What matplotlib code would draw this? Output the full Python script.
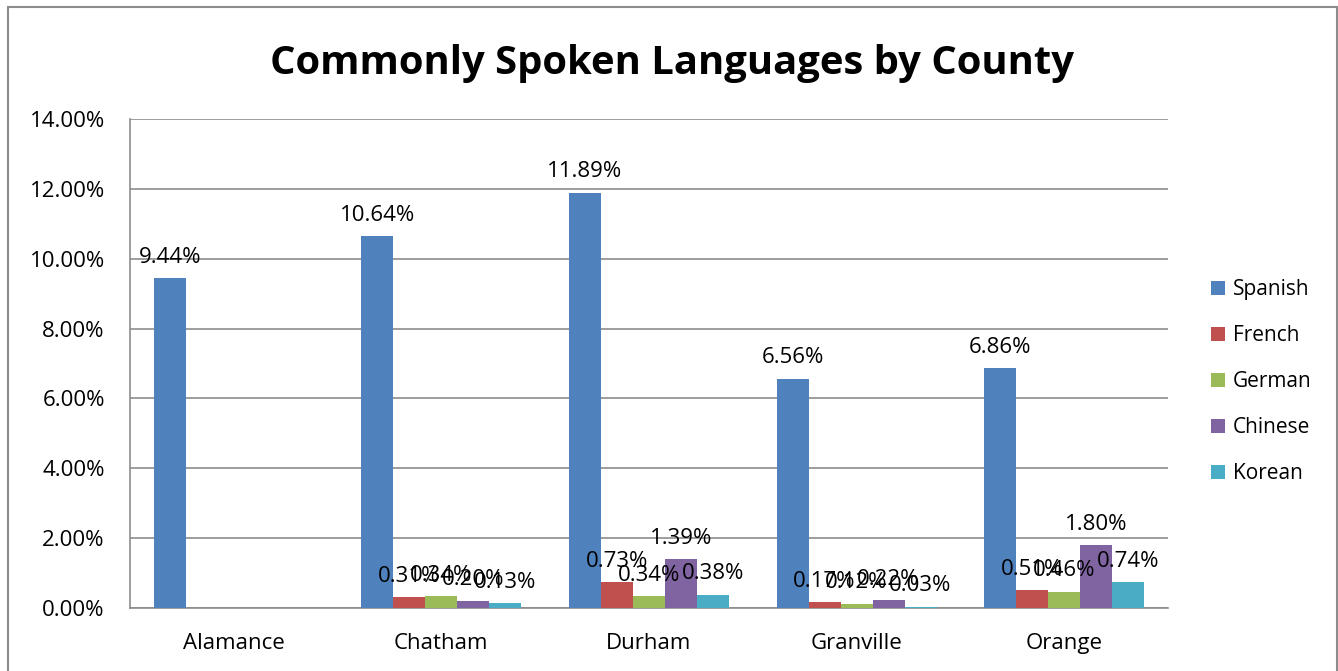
import numpy as np
import matplotlib.pyplot as plt
from matplotlib.patches import Rectangle

plt.rcParams['font.family'] = ['Open Sans', 'DejaVu Sans']

counties = ['Alamance', 'Chatham', 'Durham', 'Granville', 'Orange']
languages = ['Spanish', 'French', 'German', 'Chinese', 'Korean']
spanish = [9.44, 10.64, 11.89, 6.56, 6.86]
french = [None, 0.31, 0.73, 0.17, 0.51]
german = [None, 0.34, 0.34, 0.12, 0.46]
chinese = [None, 0.20, 1.39, 0.22, 1.80]
korean = [None, 0.13, 0.38, 0.03, 0.74]
colors = ['#4F81BD', '#C0504D', '#9BBB59', '#8064A2', '#4BACC6']

series = [spanish, french, german, chinese, korean]

fig = plt.figure(figsize=(13.38, 6.71), dpi=100)
ax = fig.add_axes([0.097, 0.094, 0.776, 0.7287])

x = np.arange(len(counties))
w = 0.154
for i, (vals, name) in enumerate(zip(series, languages)):
    pos = x + (i - 2) * w
    h = [v if v is not None else 0 for v in vals]
    ax.bar(pos, h, w, color=colors[i], label=name, zorder=3)
    # data labels, overlapping like the original
    for p, v in zip(pos, vals):
        if v is None:
            continue
        ax.text(p, v + 0.3, '%.2f%%' % v, ha='center', va='bottom',
                fontsize=16, zorder=4)

ax.set_ylim(0, 14)
ax.set_xlim(-0.5, 4.5)
ticks = np.arange(0, 14.01, 2)
ax.set_yticks(ticks)
ax.set_yticklabels(['%.2f%%' % t for t in ticks], fontsize=16)
ax.set_xticks(x)
ax.set_xticklabels(counties, fontsize=16)
ax.tick_params(axis='y', length=0, pad=18)
ax.tick_params(axis='x', length=0, pad=18)
ax.yaxis.grid(True, color='#8C8C8C', linewidth=1.2, zorder=0)
for s in ['top', 'right']:
    ax.spines[s].set_visible(False)
for s in ['left', 'bottom']:
    ax.spines[s].set_color('#8C8C8C')
    ax.spines[s].set_linewidth(1.2)

fig.text(0.502, 0.905, 'Commonly Spoken Languages by County', ha='center',
         va='center', fontsize=28.8, fontweight='bold')

leg = fig.legend(loc='center left', bbox_to_anchor=(0.891, 0.431), frameon=False,
                 fontsize=15, handlelength=0.7, handleheight=0.7,
                 labelspacing=1.2, handletextpad=0.35)

fig.patches.append(Rectangle((8 / 1338, -0.1), 1329 / 1338, 1.1 - 7 / 671,
                             transform=fig.transFigure, fill=False,
                             edgecolor='#8C8C8C', linewidth=1.5))

fig.savefig('out.png', dpi=100)
